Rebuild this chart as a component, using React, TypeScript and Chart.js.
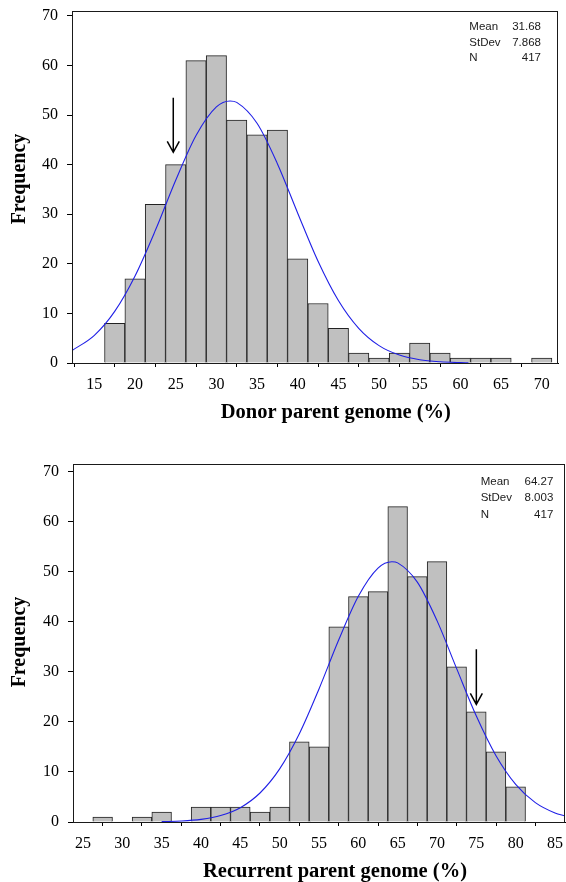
import React, { useEffect, useRef } from 'react';
import { Chart, registerables } from 'chart.js';

Chart.register(...registerables);

// ---------- Data: donor parent genome ----------
const donorBinCenters = [17.5, 20, 22.5, 25, 27.5, 30, 32.5, 35, 37.5, 40, 42.5, 45, 47.5, 50, 52.5, 55, 57.5, 60, 62.5, 65, 67.5, 70];
const donorCounts = [8, 17, 32, 40, 61, 62, 49, 46, 47, 21, 12, 7, 2, 1, 2, 4, 2, 1, 1, 1, 0, 1];
const donorCurveX = [12.25, 15, 17.5, 20, 22.5, 25, 27.5, 30, 31.68, 32.5, 35, 37.5, 40, 42.5, 45, 47.5, 50, 52.5, 55, 57.5, 60, 61];
const donorCurveY = [2.51, 5.59, 10.42, 17.56, 26.76, 36.87, 45.9, 51.67, 52.86, 52.57, 48.36, 40.21, 30.22, 20.53, 12.61, 7.0, 3.51, 1.6, 0.65, 0.24, 0.08, 0.05];
const donorXTicks = [15, 20, 25, 30, 35, 40, 45, 50, 55, 60, 65, 70];
const donorStatLabels = ['Mean', 'StDev', 'N'];
const donorStatValues = ['31.68', '7.868', '417'];
const donorArrow = [24.7, 53.5, 42.5]; // x, from y, to y
const donorTitle = 'Donor parent genome (%)';

// ---------- Data: recurrent parent genome ----------
const recurBinCenters = [27.5, 30, 32.5, 35, 37.5, 40, 42.5, 45, 47.5, 50, 52.5, 55, 57.5, 60, 62.5, 65, 67.5, 70, 72.5, 75, 77.5, 80];
const recurCounts = [1, 0, 1, 2, 0, 3, 3, 3, 2, 3, 16, 15, 39, 45, 46, 63, 49, 52, 31, 22, 14, 7];
const recurCurveX = [35, 37.5, 40, 42.5, 45, 47.5, 50, 52.5, 55, 57.5, 60, 62.5, 64.27, 65, 67.5, 70, 72.5, 75, 77.5, 80, 82.5, 85, 86.27];
const recurCurveY = [0.07, 0.19, 0.52, 1.28, 2.86, 5.79, 10.6, 17.62, 26.57, 36.34, 45.08, 50.71, 51.97, 51.75, 47.91, 40.22, 30.63, 21.16, 13.25, 7.53, 3.88, 1.81, 1.19];
const recurXTicks = [25, 30, 35, 40, 45, 50, 55, 60, 65, 70, 75, 80, 85];
const recurStatLabels = ['Mean', 'StDev', 'N'];
const recurStatValues = ['64.27', '8.003', '417'];
const recurArrow = [75.0, 34.5, 23.5];
const recurTitle = 'Recurrent parent genome (%)';

const freqTicks = [0, 10, 20, 30, 40, 50, 60, 70];
const yTitle = 'Frequency';

const SERIF = '"Liberation Serif", "Times New Roman", Times, serif';
const SANS = '"Liberation Sans", Arial, Helvetica, sans-serif';

type Layout = {
  xMin: number; xMax: number; yMax: number;
  padTop: number; padRight: number; yAxisW: number; xAxisH: number;
  xTitlePos: [number, number]; yTitlePos: [number, number];
  statLabelX: number; statValueX: number; statRows: number[];
};

type HistProps = {
  bins: number[]; counts: number[]; curveX: number[]; curveY: number[];
  xTicks: number[]; statLabels: string[]; statValues: string[];
  arrow: number[]; title: string; layout: Layout;
};

function Histogram(p: HistProps) {
  const ref = useRef<HTMLCanvasElement | null>(null);
  useEffect(() => {
    if (!ref.current) return;
    const L = p.layout;
    const deco = {
      id: 'deco',
      afterDatasetsDraw(chart: any) {
        const { ctx, chartArea: a, scales } = chart;
        const xs = scales.x, ys = scales.y;
        ctx.save();
        // frame
        ctx.strokeStyle = '#1a1a1a';
        ctx.lineWidth = 1;
        ctx.strokeRect(Math.round(a.left) + 0.5, Math.round(a.top) + 0.5, Math.round(a.right - a.left) - 1, Math.round(a.bottom - a.top));
        // arrow
        const ax = xs.getPixelForValue(p.arrow[0]);
        const y0 = ys.getPixelForValue(p.arrow[1]);
        const y1 = ys.getPixelForValue(p.arrow[2]);
        ctx.strokeStyle = '#000';
        ctx.lineWidth = 1.5;
        ctx.beginPath();
        ctx.moveTo(ax, y0);
        ctx.lineTo(ax, y1);
        ctx.moveTo(ax - 6, y1 - 11);
        ctx.lineTo(ax, y1);
        ctx.lineTo(ax + 6, y1 - 11);
        ctx.stroke();
        // stats
        ctx.fillStyle = '#1a1a1a';
        ctx.font = '11.5px ' + SANS;
        ctx.textBaseline = 'middle';
        p.statLabels.forEach((lab, i) => {
          ctx.textAlign = 'left';
          ctx.fillText(lab, L.statLabelX, L.statRows[i]);
          ctx.textAlign = 'right';
          ctx.fillText(p.statValues[i], L.statValueX, L.statRows[i]);
        });
        ctx.restore();
      },
      afterDraw(chart: any) {
        const { ctx } = chart;
        ctx.save();
        ctx.fillStyle = '#000';
        ctx.font = 'bold 20.5px ' + SERIF;
        ctx.textAlign = 'center';
        ctx.textBaseline = 'alphabetic';
        ctx.fillText(p.title, L.xTitlePos[0], L.xTitlePos[1]);
        ctx.translate(L.yTitlePos[0], L.yTitlePos[1]);
        ctx.rotate(-Math.PI / 2);
        ctx.font = 'bold 20px ' + SERIF;
        ctx.fillText(yTitle, 0, 0);
        ctx.restore();
      },
    };

    const chart = new Chart(ref.current, {
      type: 'bar',
      data: {
        datasets: [
          {
            type: 'line',
            data: p.curveX.map((x, i) => ({ x, y: p.curveY[i] })),
            borderColor: '#1f1fe6',
            borderWidth: 1.1,
            pointRadius: 0,
            cubicInterpolationMode: 'monotone',
            fill: false,
            order: 0,
          } as any,
          {
            type: 'bar',
            data: p.bins.map((x, i) => ({ x, y: p.counts[i] })),
            backgroundColor: '#c0c0c0',
            borderColor: '#222222',
            borderWidth: 1,
            barPercentage: 1,
            categoryPercentage: 1,
            order: 1,
          } as any,
        ],
      },
      options: {
        animation: false,
        responsive: false,
        devicePixelRatio: 1,
        layout: { padding: { top: L.padTop, right: L.padRight, left: 0, bottom: 0 } },
        plugins: { legend: { display: false }, tooltip: { enabled: false }, title: { display: false } },
        scales: {
          x: {
            type: 'linear',
            offset: false,
            min: L.xMin,
            max: L.xMax,
            afterBuildTicks: (s: any) => { s.ticks = p.xTicks.map((v) => ({ value: v })); },
            afterFit: (s: any) => { s.height = L.xAxisH; s.paddingLeft = 0; s.paddingRight = 0; },
            ticks: { font: { family: SERIF, size: 16 }, color: '#000', padding: 8, maxRotation: 0, autoSkip: false },
            grid: { drawOnChartArea: false, drawTicks: true, tickLength: 4, color: '#000' },
            border: { color: '#000', width: 1 },
          },
          y: {
            type: 'linear',
            min: 0,
            max: L.yMax,
            afterBuildTicks: (s: any) => { s.ticks = freqTicks.map((v) => ({ value: v })); },
            afterFit: (s: any) => { s.width = L.yAxisW; s.paddingTop = 0; s.paddingBottom = 0; },
            ticks: { font: { family: SERIF, size: 16 }, color: '#000', padding: 9 },
            grid: { drawOnChartArea: false, drawTicks: true, tickLength: 5, color: '#000' },
            border: { color: '#000', width: 1 },
          },
        },
      },
      plugins: [deco],
    });
    return () => chart.destroy();
  }, []);
  return <canvas ref={ref} width={566} height={441} style={{ display: 'block', width: 566, height: 441 }} />;
}

const topLayout: Layout = {
  xMin: 12.25, xMax: 72, yMax: 71,
  padTop: 11, padRight: 8, yAxisW: 72, xAxisH: 78,
  xTitlePos: [335.8, 418], yTitlePos: [24.5, 179],
  statLabelX: 469.3, statValueX: 541, statRows: [26.7, 42.7, 58.3],
};

const bottomLayout: Layout = {
  xMin: 23.73, xMax: 86.27, yMax: 71.5,
  padTop: 23, padRight: 1, yAxisW: 73, xAxisH: 60,
  xTitlePos: [335, 435.5], yTitlePos: [24.5, 201],
  statLabelX: 480.7, statValueX: 553.3, statRows: [41.3, 57.3, 74],
};

export default function App() {
  return (
    <div style={{ position: 'absolute', left: 0, top: 0, width: 566, height: 882, background: '#fff' }}>
      <Histogram bins={donorBinCenters} counts={donorCounts} curveX={donorCurveX} curveY={donorCurveY}
        xTicks={donorXTicks} statLabels={donorStatLabels} statValues={donorStatValues}
        arrow={donorArrow} title={donorTitle} layout={topLayout} />
      <Histogram bins={recurBinCenters} counts={recurCounts} curveX={recurCurveX} curveY={recurCurveY}
        xTicks={recurXTicks} statLabels={recurStatLabels} statValues={recurStatValues}
        arrow={recurArrow} title={recurTitle} layout={bottomLayout} />
    </div>
  );
}
